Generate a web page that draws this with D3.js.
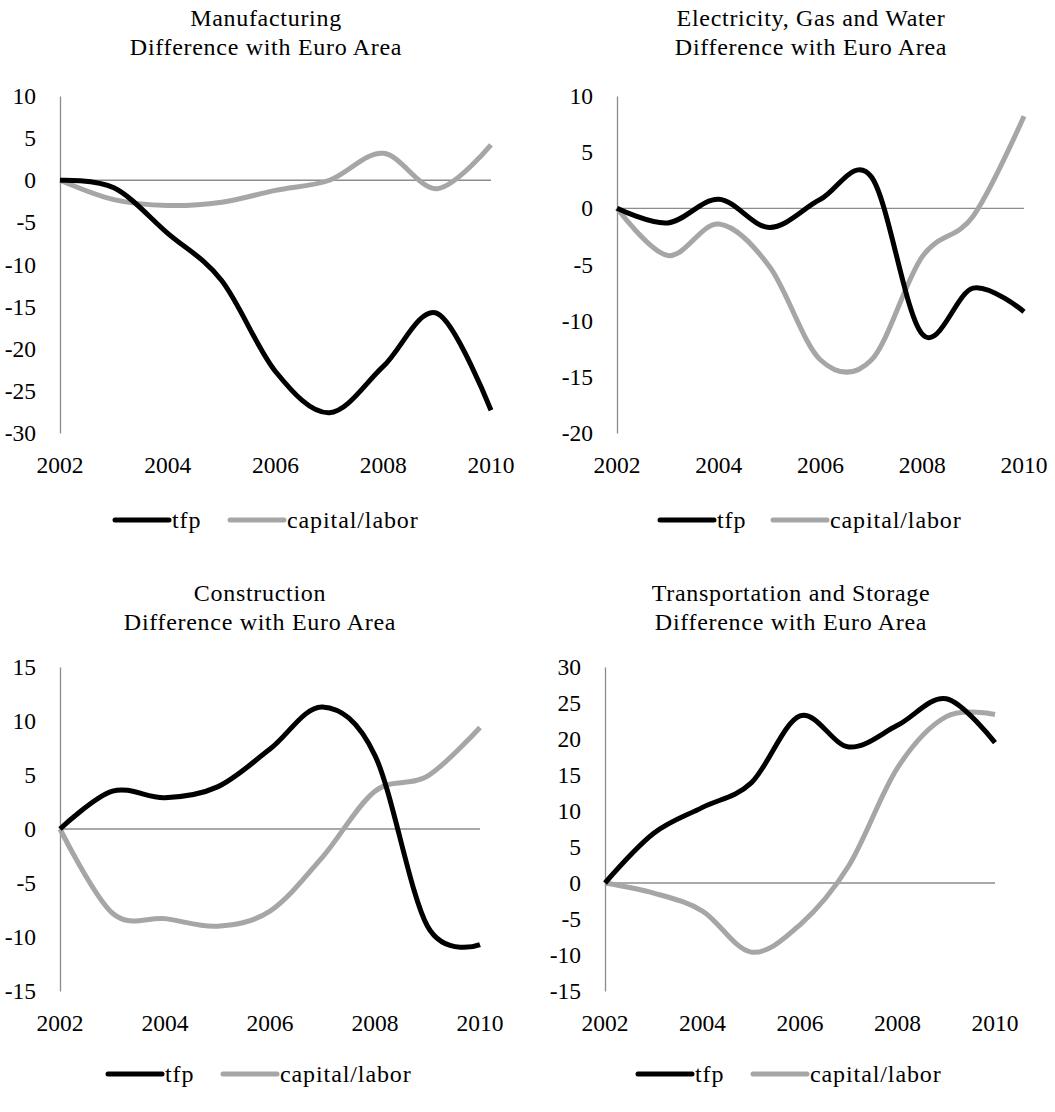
<!DOCTYPE html>
<html>
<head>
<meta charset="utf-8">
<script src="https://cdn.jsdelivr.net/npm/d3@7"></script>
<style>
  body { margin: 0; background: #fff; }
  svg, svg text { font-family: "Liberation Serif", "DejaVu Serif", serif; fill: #000; }
</style>
</head>
<body>
<div id="chart"></div>
<script>
// years on the category axis
var years = [2002, 2003, 2004, 2005, 2006, 2007, 2008, 2009, 2010];
var yearLabels = [2002, 2004, 2006, 2008, 2010];

var seriesNames = ['tfp', 'capital/labor'];
var seriesColors = ['#000000', '#a6a6a6'];

// Manufacturing
var mfgTfp    = [0, -0.9, -6.3, -11.9, -22.7, -27.6, -22.1, -15.8, -27.3];
var mfgCapLab = [0, -2.3, -3.0, -2.6, -1.2, 0.0, 3.2, -1.0, 4.2];
// Electricity, Gas and Water
var elecTfp    = [0, -1.3, 0.8, -1.7, 0.8, 2.8, -11.2, -7.1, -9.2];
var elecCapLab = [0, -4.2, -1.4, -5.2, -13.5, -13.5, -4.3, -0.7, 8.2];
// Construction
var consTfp    = [0, 3.5, 2.9, 3.9, 7.4, 11.3, 6.8, -9.0, -10.7];
var consCapLab = [0, -7.8, -8.3, -9.0, -7.6, -2.6, 3.5, 4.9, 9.4];
// Transportation and Storage
var transTfp    = [0, 6.9, 10.5, 13.9, 23.2, 18.9, 21.9, 25.6, 19.5];
var transCapLab = [0, -1.4, -3.9, -9.6, -5.8, 2.4, 16.0, 23.1, 23.4];

var titles = [
  ['Manufacturing', 'Difference with Euro Area'],
  ['Electricity, Gas and Water', 'Difference with Euro Area'],
  ['Construction', 'Difference with Euro Area'],
  ['Transportation and Storage', 'Difference with Euro Area']
];
var yDomains = [[-30, 10], [-20, 10], [-15, 15], [-15, 30]];

var svg = d3.select('#chart').append('svg')
  .attr('width', 1055)
  .attr('height', 1112)
  .attr('font-family', '"Liberation Serif", serif');

// panel boxes: left/right of the category axis, top/bottom of the value axis
var panels = [
  {x0: 60,  x1: 491, y0: 96,  y1: 433, tx: 266, ty: 26,  legY: 520, leg: [115, 230]},
  {x0: 617, x1: 1024, y0: 96, y1: 433, tx: 811, ty: 26,  legY: 520, leg: [660, 773]},
  {x0: 60,  x1: 480, y0: 667, y1: 991, tx: 260, ty: 601, legY: 1074, leg: [108, 223]},
  {x0: 605, x1: 995, y0: 667, y1: 991, tx: 791, ty: 601, legY: 1074, leg: [638, 753]}
];
var data = [
  [mfgTfp, mfgCapLab],
  [elecTfp, elecCapLab],
  [consTfp, consCapLab],
  [transTfp, transCapLab]
];

panels.forEach(function(p, k) {
  var g = svg.append('g');

  var x = d3.scalePoint().domain(years).range([p.x0, p.x1]);
  var y = d3.scaleLinear().domain(yDomains[k]).range([p.y1, p.y0]);

  // title
  g.append('text')
    .attr('x', p.tx).attr('y', p.ty)
    .attr('text-anchor', 'middle')
    .style('font-size', '24px')
    .style('letter-spacing', '0.7px')
    .selectAll('tspan')
    .data(titles[k])
    .enter().append('tspan')
    .attr('x', p.tx)
    .attr('dy', function(d, i) { return i == 0 ? 0 : 28.5; })
    .text(function(d) { return d; });

  // value axis (plain hyphen for negatives, like the source)
  var yAxis = d3.axisLeft(y)
    .tickValues(d3.range(yDomains[k][0], yDomains[k][1] + 1, 5))
    .tickFormat(function(d) { return String(d); })
    .tickSize(0).tickPadding(24);
  var ya = g.append('g').attr('transform', 'translate(' + p.x0 + ',0)').call(yAxis);
  ya.attr('font-family', null).attr('font-size', null);
  ya.select('.domain').attr('stroke', '#8c8c8c').attr('stroke-width', 1.3);
  ya.selectAll('text').style('font-size', '23.5px').attr('fill', '#000');

  // zero line
  g.append('line')
    .attr('x1', p.x0).attr('x2', p.x1)
    .attr('y1', y(0)).attr('y2', y(0))
    .attr('stroke', '#8c8c8c').attr('stroke-width', 1.3);

  // year labels
  g.selectAll('.yl')
    .data(yearLabels)
    .enter().append('text')
    .attr('x', function(d) { return x(d); })
    .attr('y', p.y1 + 40)
    .attr('text-anchor', 'middle')
    .style('font-size', '23.5px')
    .text(function(d) { return d; });

  var line = d3.line()
    .x(function(d, i) { return x(years[i]); })
    .y(function(d) { return y(d); })
    .curve(d3.curveCardinal.tension(0));

  // gray first so black sits on top
  [1, 0].forEach(function(s) {
    g.append('path')
      .datum(data[k][s])
      .attr('d', line)
      .attr('fill', 'none')
      .attr('stroke', seriesColors[s])
      .attr('stroke-width', 5)
      .attr('stroke-linejoin', 'round');
  });

  // legend
  seriesNames.forEach(function(name, s) {
    var lx = p.leg[s];
    g.append('line')
      .attr('x1', lx).attr('x2', lx + 54)
      .attr('y1', p.legY).attr('y2', p.legY)
      .attr('stroke', seriesColors[s])
      .attr('stroke-width', 5)
      .attr('stroke-linecap', 'round');
    g.append('text')
      .attr('x', lx + 57)
      .attr('y', p.legY + 8)
      .style('font-size', '24px')
      .style('letter-spacing', '0.9px')
      .text(name);
  });
});
</script>
</body>
</html>
